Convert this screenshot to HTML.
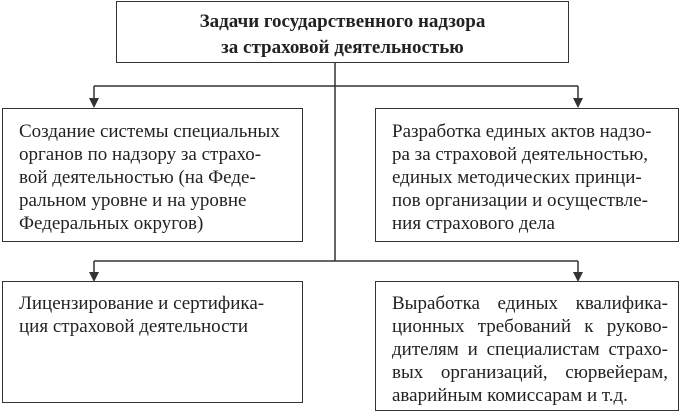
<!DOCTYPE html>
<html><head><meta charset="utf-8"><style>
body{margin:0;background:#fff;width:681px;height:412px;position:relative;overflow:hidden;font-family:"Liberation Serif",serif;color:#222}
.b{position:absolute;border:1.5px solid #333;box-sizing:border-box;font-size:19px;line-height:23px;padding:8px 12px 0 16px;white-space:nowrap}
.j{text-align:justify;text-align-last:justify}
</style></head><body>
<svg width="681" height="412" style="position:absolute;left:0;top:0">
<g stroke="#333" stroke-width="1.5" fill="none">
<line x1="335" y1="62" x2="335" y2="261"/>
<line x1="94" y1="86" x2="578" y2="86"/>
<line x1="94" y1="86" x2="94" y2="100"/>
<line x1="578" y1="86" x2="578" y2="100"/>
<line x1="94" y1="261" x2="578" y2="261"/>
<line x1="94" y1="261" x2="94" y2="273"/>
<line x1="578" y1="261" x2="578" y2="273"/>
</g>
<g fill="#333">
<polygon points="89,98 99,98 94,108"/>
<polygon points="573,98 583,98 578,108"/>
<polygon points="89,272 99,272 94,282"/>
<polygon points="573,272 583,272 578,282"/>
</g>
</svg>
<div class="b" style="left:116px;top:1px;width:453px;height:62px;text-align:center;font-weight:bold;font-size:19px;padding:7px 0 0;line-height:26px">Задачи государственного надзора<br>за страховой деятельностью</div>
<div class="b" style="left:2px;top:108px;width:301px;height:134px;padding-top:11px">Создание системы специальных<br>органов по надзору за страхо-<br>вой деятельностью (на Феде-<br>ральном уровне и на уровне<br>Федеральных округов)</div>
<div class="b" style="left:375px;top:108px;width:304px;height:134px;padding-top:11px">Разработка единых актов надзо-<br>ра за страховой деятельностью,<br>единых методических принци-<br>пов организации и осуществле-<br>ния страхового дела</div>
<div class="b" style="left:2px;top:281px;width:301px;height:122px;padding-top:10px">Лицензирование и сертифика-<br>ция страховой деятельности</div>
<div class="b" style="left:375px;top:281px;width:304px;height:130px;padding-top:10px;padding-right:10px"><div class="j">Выработка единых квалифика-</div><div class="j">ционных требований к руково-</div><div class="j">дителям и специалистам страхо-</div><div class="j">вых организаций, сюрвейерам,</div><div>аварийным комиссарам и т.д.</div></div>
</body></html>
